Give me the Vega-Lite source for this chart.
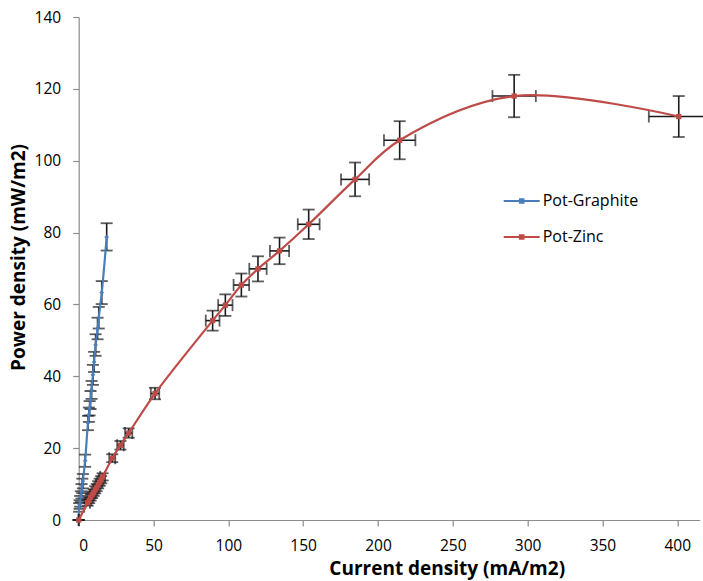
{
  "$schema": "https://vega.github.io/schema/vega-lite/v6.json",
  "width": 621,
  "height": 503,
  "autosize": {"type": "none"},
  "padding": {"left": 78.7, "top": 17, "right": 3.3, "bottom": 61},
  "background": "white",
  "config": {
    "view": {"stroke": null},
    "font": "Open Sans",
    "axis": {
      "grid": false,
      "domainColor": "#8c8c8c",
      "domainWidth": 1.2,
      "tickColor": "#8c8c8c",
      "tickSize": 6,
      "tickWidth": 1.2,
      "labelFont": "Open Sans",
      "labelFontSize": 15.5,
      "labelColor": "#000000",
      "titleFont": "Open Sans",
      "titleFontSize": 19,
      "titleFontWeight": "bold",
      "titleColor": "#000000"
    },
    "legend": {
      "labelFont": "Open Sans",
      "labelFontSize": 16,
      "labelColor": "#000000"
    }
  },
  "data": {
    "values": [
      {"series": "Pot-Graphite", "x": 0, "y": 0, "ex": 0, "ey": 0},
      {"series": "Pot-Graphite", "x": 0.3, "y": 3.5, "ex": 0.3, "ey": 1.2},
      {"series": "Pot-Graphite", "x": 0.6, "y": 4.3, "ex": 0.3, "ey": 1.2},
      {"series": "Pot-Graphite", "x": 1.0, "y": 5.2, "ex": 0.3, "ey": 1.5},
      {"series": "Pot-Graphite", "x": 1.4, "y": 6.5, "ex": 0.3, "ey": 1.5},
      {"series": "Pot-Graphite", "x": 1.9, "y": 8.0, "ex": 0.3, "ey": 2},
      {"series": "Pot-Graphite", "x": 2.4, "y": 9.5, "ex": 0.3, "ey": 2},
      {"series": "Pot-Graphite", "x": 2.8, "y": 10.8, "ex": 0.3, "ey": 2},
      {"series": "Pot-Graphite", "x": 4.3, "y": 16.5, "ex": 0.4, "ey": 1.7},
      {"series": "Pot-Graphite", "x": 6.2, "y": 27.0, "ex": 0.4, "ey": 2},
      {"series": "Pot-Graphite", "x": 6.8, "y": 29.3, "ex": 0.4, "ey": 2},
      {"series": "Pot-Graphite", "x": 7.3, "y": 31.1, "ex": 0.4, "ey": 2},
      {"series": "Pot-Graphite", "x": 7.9, "y": 33.4, "ex": 0.4, "ey": 2.5},
      {"series": "Pot-Graphite", "x": 8.6, "y": 36.2, "ex": 0.4, "ey": 2.5},
      {"series": "Pot-Graphite", "x": 9.5, "y": 40.4, "ex": 0.4, "ey": 2.8},
      {"series": "Pot-Graphite", "x": 10.3, "y": 44.0, "ex": 0.4, "ey": 2.8},
      {"series": "Pot-Graphite", "x": 11.3, "y": 48.7, "ex": 0.4, "ey": 3},
      {"series": "Pot-Graphite", "x": 12.6, "y": 53.3, "ex": 0.5, "ey": 3},
      {"series": "Pot-Graphite", "x": 13.4, "y": 56.3, "ex": 0.5, "ey": 3},
      {"series": "Pot-Graphite", "x": 15.4, "y": 63.3, "ex": 0.5, "ey": 3.2},
      {"series": "Pot-Graphite", "x": 18.7, "y": 78.8, "ex": 0.5, "ey": 3.8},
      {"series": "Pot-Zinc", "x": 0, "y": 0, "ex": 0, "ey": 0},
      {"series": "Pot-Zinc", "x": 6, "y": 4.8, "ex": 1.5, "ey": 0.8},
      {"series": "Pot-Zinc", "x": 7, "y": 5.5, "ex": 1.5, "ey": 0.8},
      {"series": "Pot-Zinc", "x": 8, "y": 6.3, "ex": 1.5, "ey": 0.9},
      {"series": "Pot-Zinc", "x": 9, "y": 7.0, "ex": 1.5, "ey": 0.9},
      {"series": "Pot-Zinc", "x": 10, "y": 7.6, "ex": 1.5, "ey": 0.9},
      {"series": "Pot-Zinc", "x": 11, "y": 8.4, "ex": 1.5, "ey": 1},
      {"series": "Pot-Zinc", "x": 12, "y": 9.0, "ex": 1.5, "ey": 1},
      {"series": "Pot-Zinc", "x": 13, "y": 9.8, "ex": 1.5, "ey": 1},
      {"series": "Pot-Zinc", "x": 14, "y": 10.5, "ex": 1.6, "ey": 1},
      {"series": "Pot-Zinc", "x": 15, "y": 11.2, "ex": 1.6, "ey": 1},
      {"series": "Pot-Zinc", "x": 16, "y": 12.0, "ex": 1.6, "ey": 1},
      {"series": "Pot-Zinc", "x": 22.4, "y": 17.2, "ex": 2, "ey": 1.1},
      {"series": "Pot-Zinc", "x": 27.9, "y": 20.8, "ex": 2.2, "ey": 1.2},
      {"series": "Pot-Zinc", "x": 33.4, "y": 24.2, "ex": 2.4, "ey": 1.3},
      {"series": "Pot-Zinc", "x": 51, "y": 35.2, "ex": 2.8, "ey": 1.6},
      {"series": "Pot-Zinc", "x": 89.5, "y": 55.5, "ex": 4.6, "ey": 2.8},
      {"series": "Pot-Zinc", "x": 98, "y": 59.8, "ex": 4.8, "ey": 3},
      {"series": "Pot-Zinc", "x": 108.7, "y": 65.4, "ex": 5.2, "ey": 3.2},
      {"series": "Pot-Zinc", "x": 119.8, "y": 69.9, "ex": 5.8, "ey": 3.5},
      {"series": "Pot-Zinc", "x": 134.2, "y": 74.9, "ex": 6.4, "ey": 3.7},
      {"series": "Pot-Zinc", "x": 153.7, "y": 82.3, "ex": 7.3, "ey": 4.1},
      {"series": "Pot-Zinc", "x": 184.7, "y": 94.8, "ex": 9.4, "ey": 4.7},
      {"series": "Pot-Zinc", "x": 214.5, "y": 105.7, "ex": 10.5, "ey": 5.3},
      {"series": "Pot-Zinc", "x": 291, "y": 118.0, "ex": 14.5, "ey": 5.9},
      {"series": "Pot-Zinc", "x": 401, "y": 112.3, "ex": 20, "ey": 5.7}
    ]
  },
  "layer": [
    {
      "transform": [{"filter": "datum.series === 'Pot-Graphite'"}],
      "mark": {"type": "errorbar", "color": "#1a1a1a", "thickness": 1.6, "ticks": {"size": 12, "thickness": 1.8, "color": "#1a1a1a"}},
      "encoding": {
        "x": {"field": "x", "type": "quantitative", "title": "Current density (mA/m2)"},
        "y": {"field": "y", "type": "quantitative", "title": "Power density (mW/m2)"},
        "yError": {"field": "ey"}
      }
    },
    {
      "transform": [{"filter": "datum.series === 'Pot-Graphite'"}],
      "mark": {"type": "line", "strokeWidth": 2.2, "interpolate": "monotone", "point": {"shape": "diamond", "size": 22, "filled": true}},
      "encoding": {
        "x": {"field": "x", "type": "quantitative", "scale": {"domain": [0, 415], "nice": false, "zero": true},
          "axis": {"values": [0, 50, 100, 150, 200, 250, 300, 350, 400], "labelPadding": 12, "title": "Current density (mA/m2)", "titleX": 368, "titleY": 54, "titleBaseline": "alphabetic", "titleAnchor": null, "titleAlign": "center"}},
        "y": {"field": "y", "type": "quantitative", "scale": {"domain": [0, 140], "nice": false},
          "axis": {"values": [0, 20, 40, 60, 80, 100, 120, 140], "labelPadding": 12, "title": "Power density (mW/m2)", "titleX": -54, "titleY": 240, "titleBaseline": "alphabetic", "titleAlign": "center", "titleAngle": -90}},
        "color": {"field": "series", "type": "nominal",
          "scale": {"domain": ["Pot-Graphite", "Pot-Zinc"], "range": ["#4a7ebb", "#be4b48"]},
          "legend": {"title": null, "orient": "none", "legendX": 424, "legendY": 165, "symbolType": "M-1,0H1M-0.1,-0.1H0.1V0.1H-0.1Z", "symbolSize": 1296, "symbolStrokeWidth": 2, "labelOffset": 2, "rowPadding": 9, "padding": 0}}
      }
    },
    {
      "transform": [{"filter": "datum.series === 'Pot-Zinc'"}],
      "mark": {"type": "errorbar", "color": "#1a1a1a", "thickness": 1.6, "ticks": {"size": 12, "thickness": 1.8, "color": "#1a1a1a"}},
      "encoding": {
        "x": {"field": "x", "type": "quantitative", "title": "Current density (mA/m2)"},
        "y": {"field": "y", "type": "quantitative", "title": "Power density (mW/m2)"},
        "yError": {"field": "ey"}
      }
    },
    {
      "transform": [{"filter": "datum.series === 'Pot-Zinc'"}],
      "mark": {"type": "errorbar", "color": "#1a1a1a", "thickness": 1.6, "ticks": {"size": 12, "thickness": 1.8, "color": "#1a1a1a"}},
      "encoding": {
        "x": {"field": "x", "type": "quantitative", "title": "Current density (mA/m2)"},
        "y": {"field": "y", "type": "quantitative", "title": "Power density (mW/m2)"},
        "xError": {"field": "ex"}
      }
    },
    {
      "transform": [{"filter": "datum.series === 'Pot-Zinc'"}],
      "mark": {"type": "line", "strokeWidth": 2.2, "interpolate": "catmull-rom", "point": {"shape": "square", "size": 28, "filled": true}},
      "encoding": {
        "x": {"field": "x", "type": "quantitative", "title": "Current density (mA/m2)"},
        "y": {"field": "y", "type": "quantitative", "title": "Power density (mW/m2)"},
        "color": {"field": "series", "type": "nominal"}
      }
    }
  ]
}
